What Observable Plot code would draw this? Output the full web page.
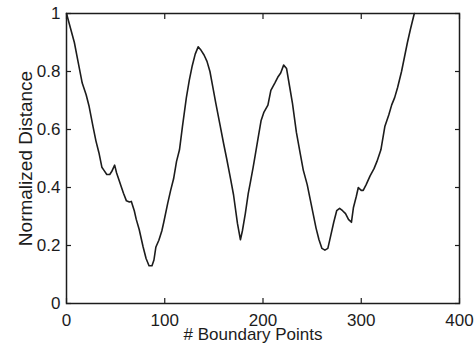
<!DOCTYPE html>
<html>
<head>
<meta charset="utf-8">
<script src="https://cdn.jsdelivr.net/npm/d3@7"></script>
<script src="https://cdn.jsdelivr.net/npm/@observablehq/plot@0.6"></script>
<style>
  html, body { margin: 0; padding: 0; background: #fff; }
  #chart { width: 476px; height: 345px; }
  #chart svg { font-family: 'Liberation Sans', Arial, sans-serif; background: #fff; }
</style>
</head>
<body>
<div id="chart"></div>
<script>
const xLabel = "# Boundary Points";
const yLabel = "Normalized Distance";
const xTicks = [0, 100, 200, 300, 400];
const yTicks = [0, 0.2, 0.4, 0.6, 0.8, 1];

const pointIndex = [
  0, 4, 8, 12, 16, 20, 23, 27, 30, 33, 36, 38, 41, 44, 46, 49, 51, 53, 56, 58,
  61, 64, 66, 69, 71, 74, 78, 81, 84, 87, 89, 91, 94, 97, 99, 103, 106, 109, 112, 115,
  118, 122, 125, 128, 131, 134, 137, 140, 143, 146, 149, 152, 156, 160, 163, 167, 170, 174, 177, 179,
  182, 185, 187, 190, 192, 195, 198, 201, 205, 208, 212, 215, 218, 221, 224, 227, 230, 234, 238, 241,
  245, 248, 251, 254, 257, 260, 263, 266, 269, 272, 275, 278, 281, 284, 287, 290, 292, 295, 297, 300,
  302, 305, 309, 313, 316, 320, 324, 328, 331, 334, 337, 341, 344, 347, 350, 354
];
const distance = [
  1.0, 0.95, 0.90, 0.83, 0.76, 0.72, 0.68, 0.61, 0.56, 0.52, 0.47, 0.46, 0.445, 0.445, 0.455, 0.477, 0.45, 0.43, 0.40, 0.38,
  0.354, 0.35, 0.352, 0.32, 0.29, 0.255, 0.195, 0.155, 0.13, 0.13, 0.15, 0.195, 0.218, 0.25, 0.28, 0.345, 0.39, 0.43, 0.49, 0.53,
  0.61, 0.71, 0.77, 0.82, 0.86, 0.885, 0.873, 0.857, 0.835, 0.80, 0.745, 0.69, 0.62, 0.55, 0.50, 0.43, 0.375, 0.276, 0.22, 0.25,
  0.31, 0.38, 0.415, 0.47, 0.51, 0.57, 0.63, 0.66, 0.684, 0.735, 0.76, 0.78, 0.795, 0.822, 0.81, 0.75, 0.69, 0.59, 0.515, 0.46,
  0.41, 0.36, 0.31, 0.26, 0.22, 0.19, 0.184, 0.19, 0.235, 0.28, 0.32, 0.328, 0.32, 0.31, 0.29, 0.28, 0.33, 0.37, 0.40, 0.39,
  0.39, 0.41, 0.44, 0.465, 0.49, 0.53, 0.61, 0.65, 0.685, 0.71, 0.745, 0.80, 0.85, 0.90, 0.945, 1.0
];

const ink = "#1c1c1c";
const fmt = d => `${d}`;

const chart = Plot.plot({
  width: 476,
  height: 345,
  marginLeft: 66,
  marginRight: 17,
  marginTop: 13,
  marginBottom: 42,
  x: { domain: [0, 400] },
  y: { domain: [0, 1] },
  marks: [
    Plot.frame({ stroke: ink, strokeWidth: 1.5 }),
    // inward ticks (MATLAB style box ticks)
    Plot.axisX(xTicks, { anchor: "bottom", tickSize: 5, dy: -5, text: null, label: null, stroke: ink, strokeWidth: 1.2 }),
    Plot.axisX(xTicks, { anchor: "top", tickSize: 5, dy: 5, text: null, label: null, stroke: ink, strokeWidth: 1.2 }),
    Plot.axisY(yTicks, { anchor: "left", tickSize: 5, dx: 5, text: null, label: null, stroke: ink, strokeWidth: 1.2 }),
    Plot.axisY(yTicks, { anchor: "right", tickSize: 5, dx: -5, text: null, label: null, stroke: ink, strokeWidth: 1.2 }),
    // tick labels
    Plot.axisX(xTicks, { anchor: "bottom", tickSize: 0, tickPadding: 10, tickFormat: fmt, label: null, fontSize: 17, fill: ink }),
    Plot.axisY(yTicks, { anchor: "left", tickSize: 0, tickPadding: 6, tickFormat: fmt, label: null, fontSize: 17, fill: ink }),
    // data curve
    Plot.line(pointIndex.map((x, i) => ({ x, y: distance[i] })), { x: "x", y: "y", stroke: ink, strokeWidth: 1.6, curve: "linear" }),
    // axis titles
    Plot.text([xLabel], { frameAnchor: "bottom", lineAnchor: "middle", textAnchor: "middle", dy: 31, dx: -10, text: d => d, fontSize: 17, fill: ink }),
    Plot.text([yLabel], { frameAnchor: "left", lineAnchor: "middle", textAnchor: "middle", rotate: -90, dx: -41, text: d => d, fontSize: 19, fill: ink })
  ]
});
document.getElementById("chart").appendChild(chart);
</script>
</body>
</html>
